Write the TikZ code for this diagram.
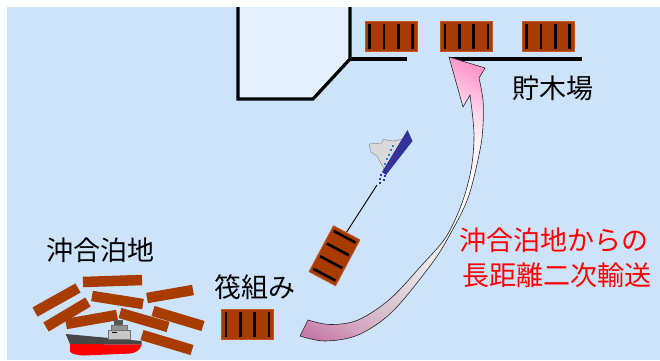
\documentclass[tikz,border=0pt]{standalone}
\usepackage{fontspec}
\newfontfamily\jpfont{Noto Sans CJK JP}

% colours
\definecolor{sea}{HTML}{CCE3FA}
\definecolor{quay}{HTML}{E3F0FD}
\definecolor{logbrown}{HTML}{A83C00}
\definecolor{logedge}{HTML}{C2582A}
\definecolor{hullblue}{HTML}{333399}
\definecolor{winblue}{HTML}{2F7FD8}
% fade stops of the transport arrow, tail to head
\definecolor{fadeA}{HTML}{C878A8}
\definecolor{fadeB}{HTML}{D3A6BF}
\definecolor{fadeC}{HTML}{D8C6CF}
\definecolor{fadeD}{HTML}{EBE6E9}
\definecolor{fadeE}{HTML}{FFFFFF}
\definecolor{fadeF}{HTML}{FFF0F7}
\definecolor{fadeG}{HTML}{FFD0E8}
\definecolor{fadeH}{HTML}{FF99CC}

% one band of the fade: from position #1 to #2 (along the fade axis),
% colour #3 to #4, in #5 strips
\newcommand\fadeband[5]{%
  \foreach \k in {1,...,#5}{%
    \pgfmathsetmacro\pa{#1+(#2-#1)*(\k-1)/#5}%
    \pgfmathsetmacro\pb{#1+(#2-#1)*\k/#5+0.5}%
    \pgfmathtruncatemacro\mixv{100*(\k-0.5)/#5}%
    \fill[#4!\mixv!#3] (-260,-\pb) rectangle (260,-\pa);
  }%
}

\tikzset{
  lbl/.style={font=\jpfont\fontsize{27}{32}\selectfont, inner sep=0pt, anchor=center},
  redlbl/.style={lbl, text=red},
  wall/.style={line width=3.2pt, line join=miter},
  log/.style={line width=10.5pt, draw=logbrown, line cap=butt},
  raft/.pic={
    \draw[fill=logbrown, draw=logedge, line width=0.8pt] (-26,-15) rectangle (26,15);
    \foreach \bx in {-21.5,-7.2,7.2,21.5}
      \draw[line width=2.6pt, black] (\bx,-12.5) -- (\bx,12.5);
  }
}

\begin{document}
\begin{tikzpicture}[x=1pt,y=-1pt]
\useasboundingbox (0,0) rectangle (660,360);
\fill[white] (0,0) rectangle (660,360);
\fill[sea] (7,7) rectangle (660,360);

% quay and storage yard edge
\filldraw[fill=quay, draw=black, wall] (238,7) -- (238,99) -- (313,99) -- (350,59) -- (350,7);
\coordinate (q1) at (350,59);
\coordinate (q2) at (407,59);
\coordinate (q3) at (450,59);
\coordinate (q4) at (582,59);
\draw[wall] (q1) -- (q2);
\draw[wall] (q3) -- (q4);

% rafts in the storage yard
\pic at (391,36) {raft};
\pic at (466.5,36) {raft};
\pic at (548,36) {raft};

% rafted logs waiting
\pic at (247.5,324.5) {raft};

% loose logs at the offshore anchorage
\draw[log] (83,282) -- (142,280);
\draw[log] (35,312) -- (78,288);
\draw[log] (46,327) -- (88,302);
\draw[log] (92,296) -- (143,304);
\draw[log] (66,324) -- (117,315);
\draw[log] (120,313) -- (168,327);
\draw[log] (147,298) -- (193,290);
\draw[log] (153,311) -- (203,326);
\draw[log] (142,335) -- (192,350);

% freighter at anchor
\fill[red] (70,344) -- (142,344.5) .. controls (140,350) and (136,353) .. (130,353.5) -- (84,355.5) .. controls (76,355) and (72,354) .. (70,351.5) -- cycle;
\fill[black!72] (65.7,334) -- (141.7,341) -- (141.7,344.5) -- (70,344) -- cycle;
\filldraw[fill=black!22, draw=black!55, line width=0.4pt] (108,330) rectangle (130,339);
\filldraw[fill=black!42, draw=black!55, line width=0.4pt] (111,325) rectangle (127,330);
\fill[black!65] (114,320) rectangle (123,325);
\draw[black, line width=0.8pt] (112,332.5) -- (117,332.5);

% tug towing a raft
\coordinate (tugstern) at (377,185);
\coordinate (raftbow) at (346,233);
\draw[black, line width=0.9pt] (tugstern) -- (raftbow);
\pic[rotate=62] at (334.5,255.75) {raft};
\filldraw[fill=black!15, draw=black!50, line width=0.4pt]
  (369,144) -- (382,143) -- (383,139.5) -- (393,141) -- (403,139) -- (388,169) -- (384,169) -- (377,156) -- (371,152) -- cycle;
\fill[hullblue] (407.5,130) -- (412.5,141) -- (386,175) -- (382,172) -- cycle;
\foreach \wx/\wy in {393/145.5,391/150,389/154.5,387/159,385/163.5}
  \fill[winblue] (\wx-1,\wy-1) rectangle (\wx+1,\wy+1);
\foreach \wx/\wy in {381/175,384.5/176,380/179,383.5/180,379.5/183}
  \fill[hullblue] (\wx-1,\wy-1) rectangle (\wx+1,\wy+1);

% long-distance transport arrow: faded fill, clipped to the outline
\begin{scope}
  \clip
    plot[smooth, tension=0.55] coordinates {(308,320) (330,324.5) (358,320) (390,299) (421,266) (446,237) (462,203) (471,170) (474,140) (473,120) (470,95)}
    -- (463,107) -- (449,57) -- (485,68) --
    plot[smooth, tension=0.55] coordinates {(479,78) (483,100) (483,125) (480,150) (468,198) (448,238) (430,266) (392,312) (358,335) (325,341) (300,336)}
    -- cycle;
  \begin{scope}[shift={(392.5,199)}, rotate=-30]
    \fill[fadeA] (-260,180) rectangle (260,159);
    \fadeband{-160}{-130}{fadeA}{fadeB}{12}
    \fadeband{-130}{-95}{fadeB}{fadeC}{12}
    \fadeband{-95}{-40}{fadeC}{fadeD}{16}
    \fadeband{-40}{40}{fadeD}{fadeE}{20}
    \fadeband{40}{95}{fadeE}{fadeF}{14}
    \fadeband{95}{120}{fadeF}{fadeG}{10}
    \fadeband{120}{152}{fadeG}{fadeH}{12}
    \fill[fadeH] (-260,-152) rectangle (260,-190);
  \end{scope}
\end{scope}
\draw[draw=black!85, line width=0.6pt, line join=miter]
  plot[smooth, tension=0.55] coordinates {(308,320) (330,324.5) (358,320) (390,299) (421,266) (446,237) (462,203) (471,170) (474,140) (473,120) (470,95)}
  -- (463,107) -- (449,57) -- (485,68) --
  plot[smooth, tension=0.55] coordinates {(479,78) (483,100) (483,125) (480,150) (468,198) (448,238) (430,266) (392,312) (358,335) (325,341) (300,336)}
  -- cycle;

% labels
\node[lbl] (yard) at (552.5,88) {貯木場};
\node[lbl] (anchorage) at (100,250) {沖合泊地};
\node[lbl] (rafting) at (255,287) {筏組み};
\node[redlbl] (note1) at (553.5,240) {沖合泊地からの};
\node[redlbl] (note2) at (557,275) {長距離二次輸送};
\end{tikzpicture}
\end{document}
